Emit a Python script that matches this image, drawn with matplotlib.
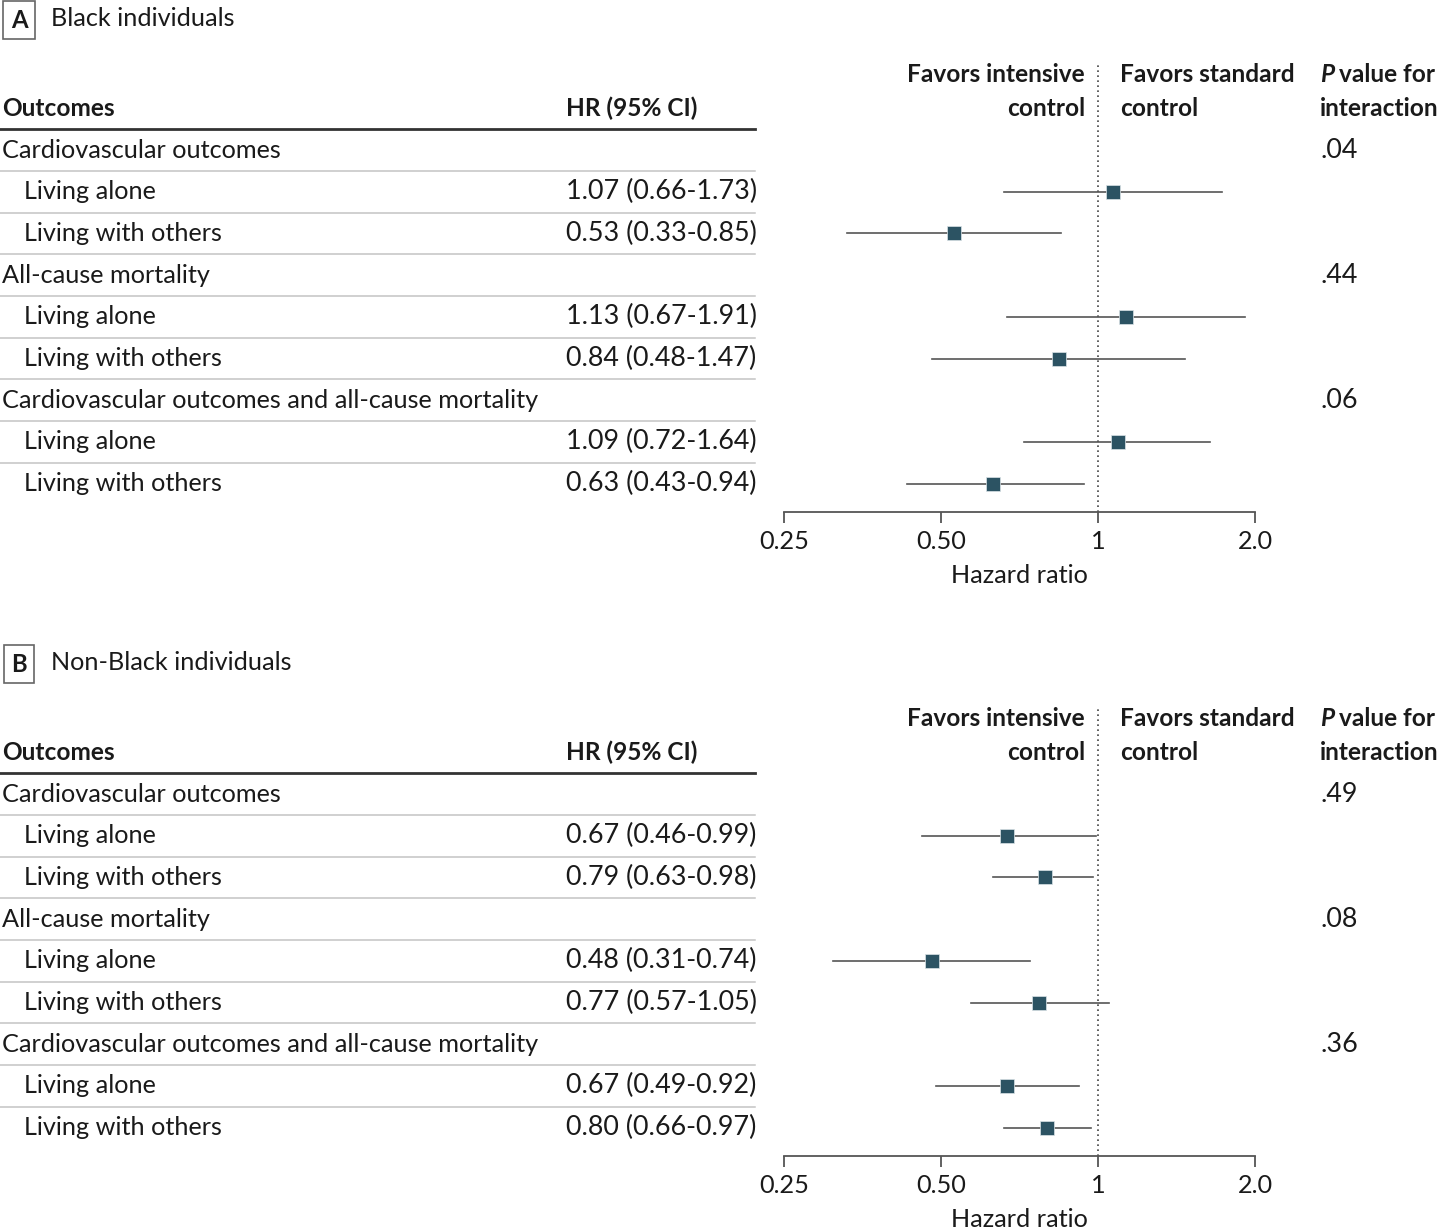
import matplotlib.pyplot as plt
import matplotlib.transforms as mtransforms
import numpy as np

# ---- data ----
row_labels = ["Cardiovascular outcomes", "Living alone", "Living with others",
              "All-cause mortality", "Living alone", "Living with others",
              "Cardiovascular outcomes and all-cause mortality", "Living alone", "Living with others"]
is_header = [True, False, False, True, False, False, True, False, False]

hr_black = [None, 1.07, 0.53, None, 1.13, 0.84, None, 1.09, 0.63]
lo_black = [None, 0.66, 0.33, None, 0.67, 0.48, None, 0.72, 0.43]
hi_black = [None, 1.73, 0.85, None, 1.91, 1.47, None, 1.64, 0.94]
p_black = [".04", None, None, ".44", None, None, ".06", None, None]

hr_nonblack = [None, 0.67, 0.79, None, 0.48, 0.77, None, 0.67, 0.80]
lo_nonblack = [None, 0.46, 0.63, None, 0.31, 0.57, None, 0.49, 0.66]
hi_nonblack = [None, 0.99, 0.98, None, 0.74, 1.05, None, 0.92, 0.97]
p_nonblack = [".49", None, None, ".08", None, None, ".36", None, None]

xticks = [0.25, 0.5, 1, 2.0]
xtick_labels = ["0.25", "0.50", "1", "2.0"]

W, H = 1439, 1228
FONT = "Lato"
FS = 18.2      # body text
FSB = 17.6     # bold headers
FSN = 19.4     # numbers (wider digits in the original)
TXT = "#1a1a1a"
MARK = "#2c5363"

plt.rcParams['font.family'] = [FONT, 'DejaVu Sans']

fig = plt.figure(figsize=(W / 100, H / 100), dpi=100)


def fx(px):
    return px / W


def fy(py):
    return 1 - py / H


def panel(off, letter, title, hr, lo, hi, pvals):
    # forest axes, placed in pixel terms
    top, bottom = 65 + off, 512 + off
    ax = fig.add_axes([fx(784), fy(bottom), fx(1255) - fx(784), (bottom - top) / H])
    ax.set_xscale('log', base=2)
    ax.set_xlim(0.25, 2.0)
    row0 = 150 + off
    step = 41.7
    ax.set_ylim((bottom - row0) / step, (top - row0) / step)
    for s in ['top', 'right', 'left']:
        ax.spines[s].set_visible(False)
    ax.spines['bottom'].set_color('#555555')
    ax.spines['bottom'].set_linewidth(1.3)
    ax.set_yticks([])
    ax.set_xticks(xticks)
    ax.set_xticklabels(xtick_labels)
    ax.xaxis.set_minor_locator(plt.NullLocator())
    ax.tick_params(axis='x', length=8, width=1.3, color='#555555',
                   labelsize=FS, labelcolor=TXT, pad=5)
    ax.set_xlabel("Hazard ratio", fontsize=FS, color=TXT, labelpad=8)
    ax.axvline(1, color='#444444', ls=(0, (1, 2)), lw=1.2, zorder=1)

    for i in range(len(row_labels)):
        if hr[i] is None:
            continue
        ax.plot([lo[i], hi[i]], [i, i], color='#555555', lw=1.2, zorder=2)
        ax.plot(hr[i], i, marker='s', ms=10.5, color=MARK, mec='#dbe4e8',
                mew=0.5, zorder=3)

    tr = mtransforms.blended_transform_factory(fig.transFigure, ax.transData)
    n = len(row_labels)
    for i in range(n):
        x = fx(2) if is_header[i] else fx(24)
        ax.text(x, i, row_labels[i], transform=tr, fontsize=FS, color=TXT,
                va='center', ha='left')
        if hr[i] is not None:
            ax.text(fx(566), i, f"{hr[i]:.2f} ({lo[i]:.2f}-{hi[i]:.2f})",
                    transform=tr, fontsize=FSN, color=TXT, va='center', ha='left')
        if pvals[i] is not None:
            ax.text(fx(1320), i, pvals[i], transform=tr, fontsize=FSN,
                    color=TXT, va='center', ha='left')
        if i < n - 1:
            ax.plot([0, fx(755)], [i + 0.5, i + 0.5], transform=tr,
                    color='#c4c4c4', lw=1.1, clip_on=False)
    ax.plot([0, fx(755)], [-0.5, -0.5], transform=tr, color='#333333',
            lw=2, clip_on=False)

    # column headers
    hkw = dict(transform=tr, fontsize=FSB, color=TXT, va='center', weight='bold')
    ax.text(fx(2), -1.0, "Outcomes", ha='left', **hkw)
    ax.text(fx(566), -1.0, "HR (95% CI)", ha='left', **hkw)
    ax.text(fx(1085), -1.8, "Favors intensive", ha='right', **hkw)
    ax.text(fx(1085), -1.0, "control", ha='right', **hkw)
    ax.text(fx(1120), -1.8, "Favors standard", ha='left', **hkw)
    ax.text(fx(1120), -1.0, "control", ha='left', **hkw)
    ax.text(fx(1320), -1.8, "P", ha='left', style='italic', **hkw)
    ax.text(fx(1339), -1.8, "value for", ha='left', **hkw)
    ax.text(fx(1320), -1.0, "interaction", ha='left', **hkw)

    # panel label
    fig.text(fx(19), fy(20 + off), letter, fontsize=FS - 1, weight='bold',
             color=TXT, ha='center', va='center',
             bbox=dict(boxstyle='square,pad=0.32', fc='white', ec='#666666', lw=1.2))
    fig.text(fx(51), fy(19 + off), title, fontsize=FS, color=TXT,
             ha='left', va='center')


panel(0, "A", "Black individuals", hr_black, lo_black, hi_black, p_black)
panel(644, "B", "Non-Black individuals", hr_nonblack, lo_nonblack, hi_nonblack, p_nonblack)

fig.savefig("out.png", dpi=100)
